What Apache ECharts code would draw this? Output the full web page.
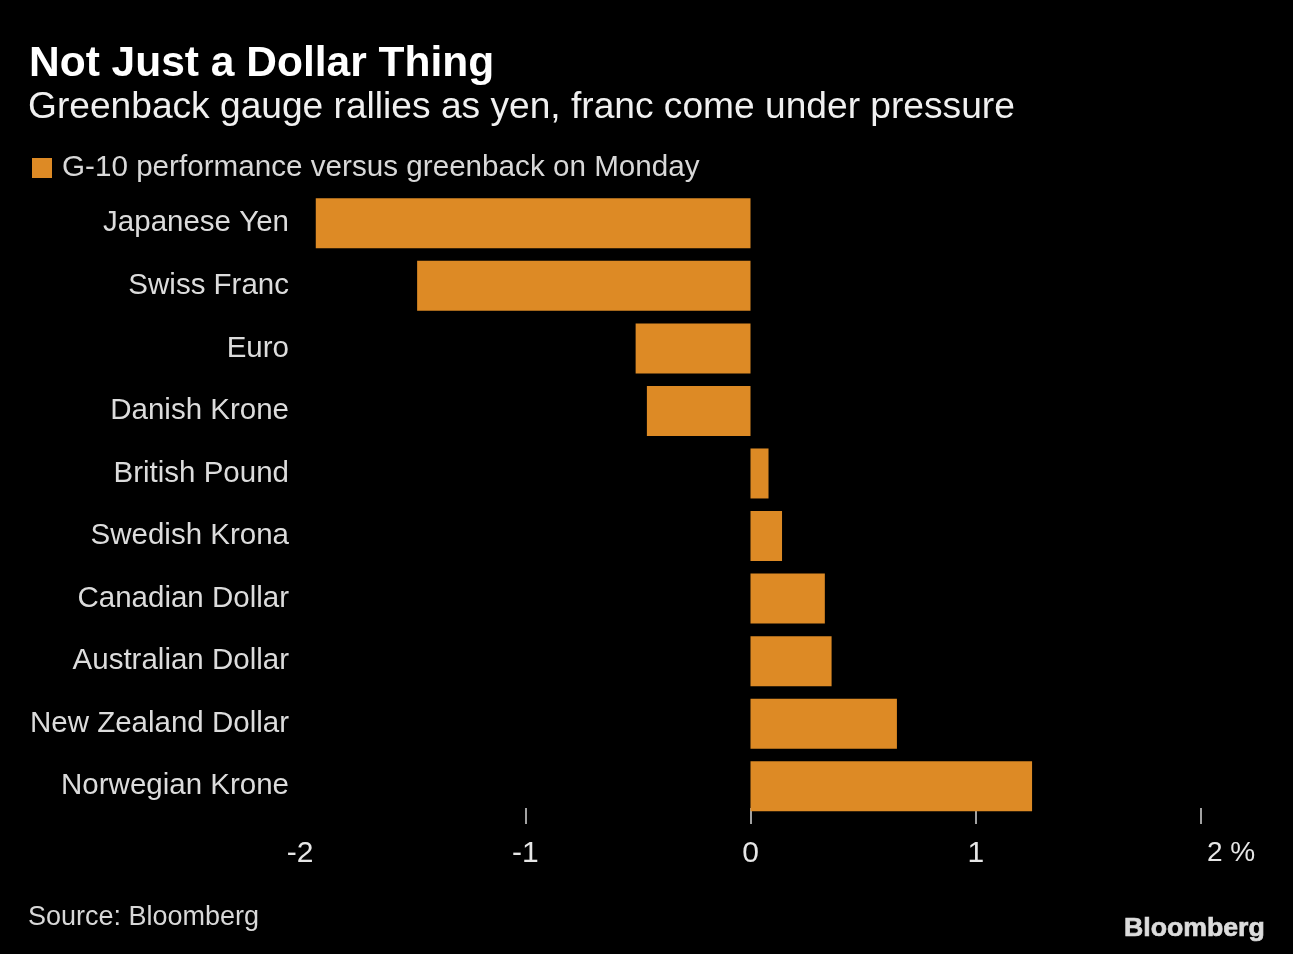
<!DOCTYPE html>
<html lang="en">
<head>
    <meta charset="UTF-8">
    <title>Not Just a Dollar Thing</title>
    <script src="https://cdn.jsdelivr.net/npm/echarts@6/dist/echarts.min.js"></script>
    <style>
        html, body { margin: 0; padding: 0; background: #000; }
        #chart { width: 1293px; height: 954px; }
    </style>
</head>
<body>
<div id="chart"></div>
<script type="text/javascript">
    var currencies = ['Japanese Yen', 'Swiss Franc', 'Euro', 'Danish Krone', 'British Pound',
        'Swedish Krona', 'Canadian Dollar', 'Australian Dollar', 'New Zealand Dollar', 'Norwegian Krone'];
    var performance = [-1.93, -1.48, -0.51, -0.46, 0.08, 0.14, 0.33, 0.36, 0.65, 1.25];
    var tickValues = [-1, 0, 1, 2];
    var seriesName = 'G-10 performance versus greenback on Monday';

    var sans = '"Liberation Sans", sans-serif';
    var chart = echarts.init(document.getElementById('chart'));

    var option = {
        backgroundColor: '#000',
        animation: false,
        title: [
            { text: 'Not Just a Dollar Thing', left: 29, top: 43, padding: 0,
              textStyle: { color: '#fff', fontFamily: sans, fontWeight: 'bold', fontSize: 42.5 } },
            { text: 'Greenback gauge rallies as yen, franc come under pressure', left: 28, top: 89, padding: 0,
              textStyle: { color: '#f0f0f0', fontFamily: sans, fontWeight: 'normal', fontSize: 37.15 } },
            { text: 'Source: Bloomberg', left: 28, top: 904, padding: 0,
              textStyle: { color: '#d8d8d8', fontFamily: sans, fontWeight: 'normal', fontSize: 27 } },
            { text: 'Bloomberg', right: 27.5, top: 915, padding: 0,
              textStyle: { color: '#dcdcdc', fontFamily: sans, fontWeight: 'bold', fontSize: 26.7,
                  textBorderColor: '#dcdcdc', textBorderWidth: 0.7 } }
        ],
        legend: {
            left: 32,
            top: 153,
            padding: 0,
            selectedMode: false,
            icon: 'rect',
            itemWidth: 20,
            itemHeight: 20,
            data: [seriesName],
            textStyle: { color: '#d8d8d8', fontFamily: sans, fontSize: 29.65, padding: [2, 0, 0, 5] }
        },
        grid: { left: 300, right: 92, top: 192, bottom: 136.5 },
        xAxis: {
            type: 'value',
            min: -2,
            max: 2,
            interval: 1,
            offset: 6.5,
            z: 1,
            splitLine: { show: false },
            axisLine: { show: false },
            axisTick: { show: true, inside: true, length: 16, customValues: tickValues,
                lineStyle: { color: '#d8d8d8', width: 1.5 } },
            axisLabel: {
                color: '#e6e6e6',
                fontFamily: sans,
                fontSize: 30,
                margin: 15,
                alignMaxLabel: 'left',
                formatter: function (v) { return v === 2 ? '{last|2 %}' : String(v); },
                rich: { last: { color: '#e6e6e6', fontFamily: sans, fontSize: 28, padding: [0, 0, 0, 6] } }
            }
        },
        yAxis: {
            type: 'category',
            inverse: true,
            data: currencies,
            axisLine: { show: false },
            axisTick: { show: false },
            axisLabel: { color: '#dcdcdc', fontFamily: sans, fontSize: 29.5, margin: 11 }
        },
        series: [{
            name: seriesName,
            type: 'bar',
            z: 3,
            barWidth: 50,
            itemStyle: { color: '#dd8a25' },
            data: performance
        }]
    };
    chart.setOption(option);
</script>
</body>
</html>
